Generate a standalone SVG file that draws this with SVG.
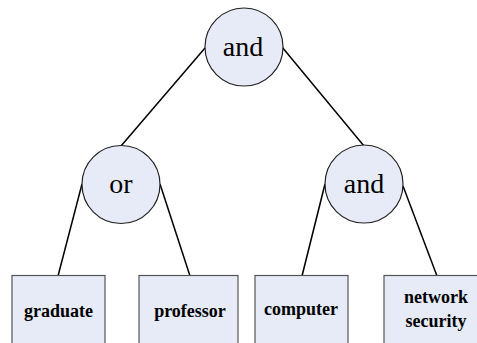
<svg xmlns="http://www.w3.org/2000/svg" width="477" height="343" viewBox="0 0 477 343">
<style>
.c{fill:#e6ebf7;stroke:#222;stroke-width:1.2}
.b{fill:#e6ebf7;stroke:#555;stroke-width:1.2}
.ct{font-family:'Liberation Serif','Times New Roman','DejaVu Serif',serif;font-size:28px;fill:#000;text-anchor:middle}
.bt{font-family:'Liberation Serif','Times New Roman','DejaVu Serif',serif;font-size:18px;font-weight:bold;fill:#000;text-anchor:middle}
.e{stroke:#000;stroke-width:1.5;fill:none}
</style>
<rect width="477" height="343" fill="#fff"/>
<g id="edges">
<line class="e" x1="205" y1="48" x2="121" y2="146"/>
<line class="e" x1="282" y1="47" x2="364" y2="146"/>
<line class="e" x1="82" y1="184" x2="58" y2="276"/>
<line class="e" x1="160" y1="184" x2="190" y2="276"/>
<line class="e" x1="325" y1="184" x2="302" y2="276"/>
<line class="e" x1="403" y1="186" x2="437" y2="276"/>
</g>
<g id="root"><circle class="c" cx="244" cy="47" r="39"/><text class="ct" x="243" y="56">and</text></g>
<g id="or"><circle class="c" cx="121" cy="184.5" r="39"/><text class="ct" x="121" y="193">or</text></g>
<g id="and2"><circle class="c" cx="364" cy="184" r="39"/><text class="ct" x="364" y="193">and</text></g>
<g id="graduate"><rect class="b" x="12" y="275.5" width="93" height="80"/><text class="bt" x="58.5" y="317">graduate</text></g>
<g id="professor"><rect class="b" x="139" y="275.5" width="99" height="80"/><text class="bt" x="190" y="317">professor</text></g>
<g id="computer"><rect class="b" x="255" y="275.5" width="93" height="80"/><text class="bt" x="301" y="315">computer</text></g>
<g id="network"><rect class="b" x="384" y="275.5" width="100" height="80"/><text class="bt" x="436" y="303">network</text><text class="bt" x="436" y="327">security</text></g>
</svg>
